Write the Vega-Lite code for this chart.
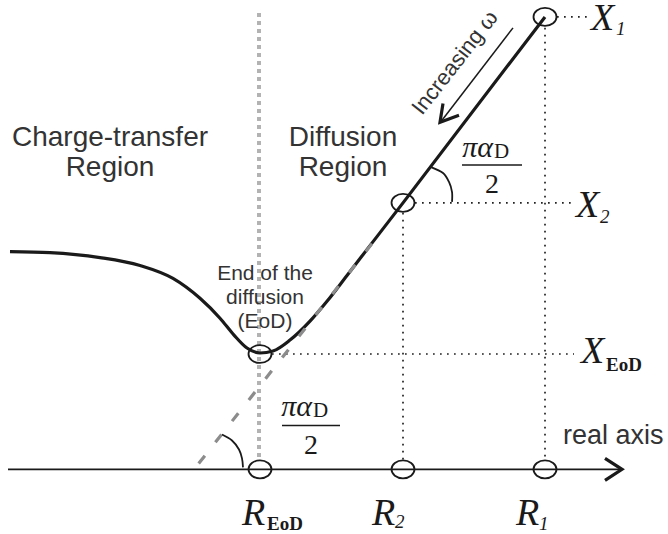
{
  "$schema": "https://vega.github.io/schema/vega-lite/v6.json",
  "width": 668,
  "height": 534,
  "padding": 0,
  "autosize": {"type": "fit", "contains": "padding"},
  "config": {"view": {"stroke": null}},
  "encoding": {
    "x": {"field": "x", "type": "quantitative", "scale": {"domain": [0, 668], "nice": false, "zero": false}, "axis": null},
    "y": {"field": "y", "type": "quantitative", "scale": {"domain": [0, 534], "reverse": true, "nice": false, "zero": false}, "axis": null}
  },
  "layer": [
    {
      "data": {"values": [{"x": 259, "y": 13, "x2": 259, "y2": 463}]},
      "mark": {"type": "rule", "color": "#b3b3b3", "strokeWidth": 4, "strokeDash": [4, 4]},
      "encoding": {"x2": {"field": "x2"}, "y2": {"field": "y2"}}
    },
    {
      "data": {"values": [
        {"x": 557, "y": 17, "x2": 592, "y2": 17},
        {"x": 545, "y": 28, "x2": 545, "y2": 462},
        {"x": 415, "y": 204, "x2": 576, "y2": 204},
        {"x": 403, "y": 214, "x2": 403, "y2": 462},
        {"x": 272, "y": 356, "x2": 574, "y2": 356}
      ]},
      "mark": {"type": "rule", "color": "#222222", "strokeWidth": 1.7, "strokeDash": [1.7, 5.3]},
      "encoding": {"x2": {"field": "x2"}, "y2": {"field": "y2"}}
    },
    {
      "data": {"values": [{"x": 8, "y": 472, "x2": 621, "y2": 472}]},
      "mark": {"type": "rule", "color": "#1a1a1a", "strokeWidth": 1.8},
      "encoding": {"x2": {"field": "x2"}, "y2": {"field": "y2"}}
    },
    {
      "data": {"values": [
        {"x": 10, "y": 253}, {"x": 50, "y": 254}, {"x": 100, "y": 259}, {"x": 140, "y": 267},
        {"x": 173, "y": 280}, {"x": 200, "y": 300}, {"x": 220, "y": 320}, {"x": 234, "y": 337},
        {"x": 247, "y": 350}, {"x": 260, "y": 355}, {"x": 273, "y": 353}, {"x": 290, "y": 342},
        {"x": 310, "y": 323}, {"x": 327, "y": 303}, {"x": 347, "y": 277}, {"x": 370, "y": 247},
        {"x": 403, "y": 204}, {"x": 545, "y": 17}
      ]},
      "mark": {"type": "line", "color": "#1a1a1a", "strokeWidth": 3.2, "interpolate": "monotone"},
      "encoding": {"order": {"field": "x", "type": "quantitative"}}
    },
    {
      "data": {"values": [{"x": 372, "y": 245, "x2": 198, "y2": 467}]},
      "mark": {"type": "rule", "color": "#8c8c8c", "strokeWidth": 3.2, "strokeDash": [10, 17]},
      "encoding": {"x2": {"field": "x2"}, "y2": {"field": "y2"}}
    },
    {
      "data": {"values": [
        {"g": "low", "o": 1, "x": 222, "y": 437}, {"g": "low", "o": 2, "x": 232, "y": 443},
        {"g": "low", "o": 3, "x": 239, "y": 452}, {"g": "low", "o": 4, "x": 242, "y": 461},
        {"g": "low", "o": 5, "x": 243, "y": 470},
        {"g": "up", "o": 1, "x": 431, "y": 168}, {"g": "up", "o": 2, "x": 443, "y": 174},
        {"g": "up", "o": 3, "x": 449, "y": 183}, {"g": "up", "o": 4, "x": 452, "y": 193},
        {"g": "up", "o": 5, "x": 452, "y": 203}
      ]},
      "mark": {"type": "line", "color": "#1a1a1a", "strokeWidth": 1.8, "interpolate": "cardinal"},
      "encoding": {"detail": {"field": "g"}, "order": {"field": "o", "type": "quantitative"}}
    },
    {
      "data": {"values": [{"x": 513, "y": 28, "x2": 442, "y2": 121}]},
      "mark": {"type": "rule", "color": "#1a1a1a", "strokeWidth": 1.5},
      "encoding": {"x2": {"field": "x2"}, "y2": {"field": "y2"}}
    },
    {
      "data": {"values": [
        {"g": "w", "o": 1, "x": 443, "y": 104}, {"g": "w", "o": 2, "x": 440, "y": 123}, {"g": "w", "o": 3, "x": 459, "y": 116},
        {"g": "ax", "o": 1, "x": 605, "y": 461}, {"g": "ax", "o": 2, "x": 622, "y": 472}, {"g": "ax", "o": 3, "x": 605, "y": 483}
      ]},
      "mark": {"type": "line", "color": "#1a1a1a", "strokeWidth": 3.2, "strokeJoin": "miter"},
      "encoding": {"detail": {"field": "g"}, "order": {"field": "o", "type": "quantitative"}}
    },
    {
      "data": {"values": [
        {"x": 282, "y": 428, "x2": 340, "y2": 428},
        {"x": 462, "y": 166, "x2": 522, "y2": 166}
      ]},
      "mark": {"type": "rule", "color": "#1a1a1a", "strokeWidth": 1.5},
      "encoding": {"x2": {"field": "x2"}, "y2": {"field": "y2"}}
    },
    {
      "data": {"values": [
        {"x": 545, "y": 17}, {"x": 403, "y": 204}, {"x": 260, "y": 356},
        {"x": 260, "y": 472}, {"x": 403, "y": 472}, {"x": 545, "y": 472}
      ]},
      "mark": {"type": "point", "shape": "M -1 0 A 1 0.78 0 1 0 1 0 A 1 0.78 0 1 0 -1 0 Z", "size": 529, "filled": false, "color": "#1a1a1a", "strokeWidth": 1.8, "opacity": 1}
    },
    {
      "data": {"values": [
        {"x": 110, "y": 147, "t": "Charge-transfer"}, {"x": 110, "y": 177, "t": "Region"},
        {"x": 343, "y": 147, "t": "Diffusion"}, {"x": 343, "y": 177, "t": "Region"}
      ]},
      "mark": {"type": "text", "font": "Liberation Sans", "fontSize": 28, "color": "#333333", "align": "center", "baseline": "alphabetic"},
      "encoding": {"text": {"field": "t"}}
    },
    {
      "data": {"values": [
        {"x": 265, "y": 282, "t": "End of the"}, {"x": 265, "y": 306, "t": "diffusion"}, {"x": 265, "y": 330, "t": "(EoD)"}
      ]},
      "mark": {"type": "text", "font": "Liberation Sans", "fontSize": 21, "color": "#333333", "align": "center", "baseline": "alphabetic"},
      "encoding": {"text": {"field": "t"}}
    },
    {
      "data": {"values": [{"x": 563, "y": 447, "t": "real axis"}]},
      "mark": {"type": "text", "font": "Liberation Sans", "fontSize": 27, "color": "#333333", "align": "left", "baseline": "alphabetic"},
      "encoding": {"text": {"field": "t"}}
    },
    {
      "data": {"values": [{"x": 455, "y": 63, "t": "Increasing ω"}]},
      "mark": {"type": "text", "font": "Liberation Sans", "fontSize": 22, "color": "#333333", "align": "center", "baseline": "middle", "angle": -52},
      "encoding": {"text": {"field": "t"}}
    },
    {
      "data": {"values": [
        {"x": 591, "y": 30, "t": "X"}, {"x": 576, "y": 218, "t": "X"}, {"x": 581, "y": 365, "t": "X"},
        {"x": 242, "y": 528, "t": "R"}, {"x": 372, "y": 528, "t": "R"}, {"x": 516, "y": 528, "t": "R"}
      ]},
      "mark": {"type": "text", "font": "Liberation Serif", "fontSize": 38, "fontStyle": "italic", "color": "#1a1a1a", "align": "left", "baseline": "alphabetic"},
      "encoding": {"text": {"field": "t"}}
    },
    {
      "data": {"values": [
        {"x": 616, "y": 35, "t": "1"}, {"x": 600, "y": 224, "t": "2"},
        {"x": 395, "y": 531, "t": "2"}, {"x": 539, "y": 533, "t": "1"}
      ]},
      "mark": {"type": "text", "font": "Liberation Serif", "fontSize": 19, "fontStyle": "italic", "color": "#1a1a1a", "align": "left", "baseline": "alphabetic"},
      "encoding": {"text": {"field": "t"}}
    },
    {
      "data": {"values": [
        {"x": 606, "y": 373, "t": "EoD"}, {"x": 267, "y": 533, "t": "EoD"}
      ]},
      "mark": {"type": "text", "font": "Liberation Serif", "fontSize": 19, "fontWeight": "bold", "color": "#1a1a1a", "align": "left", "baseline": "alphabetic"},
      "encoding": {"text": {"field": "t"}}
    },
    {
      "data": {"values": [
        {"x": 493, "y": 158, "t": "πα"}, {"x": 312, "y": 418, "t": "πα"}
      ]},
      "mark": {"type": "text", "font": "Liberation Serif", "fontSize": 30, "fontStyle": "italic", "color": "#1a1a1a", "align": "right", "baseline": "alphabetic"},
      "encoding": {"text": {"field": "t"}}
    },
    {
      "data": {"values": [
        {"x": 494, "y": 159, "t": "D"}, {"x": 313, "y": 419, "t": "D"}
      ]},
      "mark": {"type": "text", "font": "Liberation Serif", "fontSize": 21, "color": "#1a1a1a", "align": "left", "baseline": "alphabetic"},
      "encoding": {"text": {"field": "t"}}
    },
    {
      "data": {"values": [
        {"x": 492, "y": 194, "t": "2"}, {"x": 311, "y": 457, "t": "2"}
      ]},
      "mark": {"type": "text", "font": "Liberation Serif", "fontSize": 28, "color": "#1a1a1a", "align": "center", "baseline": "alphabetic"},
      "encoding": {"text": {"field": "t"}}
    }
  ]
}
